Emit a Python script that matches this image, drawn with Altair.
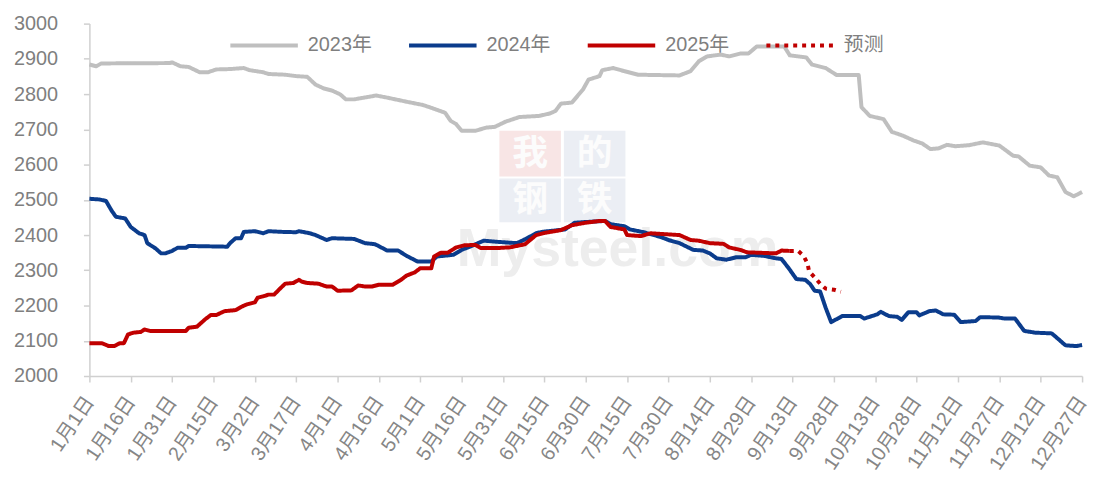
import altair as alt
import pandas as pd

# ---- data (day offset from 1月1日, price) ----
days_2023 = [0, 2.5, 4.3, 29, 30, 33, 36, 40, 43, 46, 51, 56, 58, 63, 65, 71, 75, 79, 82, 85,
             88, 91, 93, 96, 104, 108, 114, 121, 124, 129, 131, 133, 135, 140, 144, 147, 151, 156, 163, 167,
             169, 171, 175, 179, 181, 185, 186, 190, 194, 199, 206, 214, 218, 221, 224, 229, 232, 236, 239, 242,
             252, 254, 260, 262, 267, 271, 279, 280, 283, 288, 291, 295, 299, 302, 305, 308, 311, 314, 319, 324,
             330, 335, 337, 341, 345, 348, 351, 354, 357, 360]
vals_2023 = [2884, 2879, 2887, 2888, 2890, 2879, 2877, 2862, 2862, 2870, 2871, 2874, 2868, 2862, 2857, 2855, 2851, 2849, 2827, 2816,
             2810, 2799, 2785, 2785, 2796, 2790, 2780, 2769, 2761, 2747, 2724, 2715, 2696, 2696, 2705, 2707, 2722, 2735, 2738, 2745,
             2752, 2773, 2776, 2813, 2841, 2851, 2868, 2874, 2865, 2855, 2854, 2853, 2865, 2893, 2907, 2912, 2907, 2915, 2915, 2935,
             2935, 2910, 2904, 2884, 2874, 2854, 2854, 2763, 2738, 2729, 2693, 2682, 2668, 2660, 2644, 2646, 2656, 2652, 2655, 2663,
             2654, 2625, 2623, 2597, 2592, 2569, 2564, 2522, 2510, 2522]

days_2024 = [0, 3.6, 6, 8, 9.6, 13, 15, 18, 20, 21, 24, 26, 27.5, 30, 32, 35, 36, 50, 51, 53,
             55, 56, 60, 63, 65, 70, 75, 76, 80, 82, 86, 88, 96, 100, 103.6, 108, 112, 115, 119, 124,
             126, 132, 135, 138, 143, 147.5, 155, 158, 162, 164, 172.5, 176, 180, 187, 189, 194, 196, 201, 207, 210,
             214, 219, 222.5, 225, 227.5, 231, 234.6, 238, 240, 244.6, 249, 251, 253.6, 256.4, 259.6, 261.4, 263, 265, 267, 269,
             271.4, 273, 279.6, 281, 285.7, 287, 290, 293, 294.6, 297, 300, 301, 304.6, 307, 309.6, 313.6, 316, 321.4, 323, 329.6,
             332, 335.7, 339, 343, 349, 354, 358, 360]
vals_2024 = [2503, 2501, 2497, 2470, 2452, 2447, 2423, 2405, 2400, 2377, 2362, 2348, 2348, 2355, 2364, 2364, 2369, 2367, 2377, 2391,
             2391, 2409, 2411, 2405, 2411, 2409, 2408, 2411, 2405, 2400, 2386, 2391, 2389, 2377, 2374, 2356, 2356, 2341, 2325, 2325,
             2339, 2344, 2358, 2367, 2384, 2381, 2377, 2388, 2405, 2409, 2416, 2435, 2437, 2440, 2431, 2425, 2416, 2408, 2395, 2386,
             2377, 2358, 2356, 2348, 2334, 2330, 2337, 2337, 2344, 2341, 2334, 2332, 2306, 2275, 2273, 2261, 2242, 2240, 2194, 2153,
             2163, 2170, 2170, 2163, 2175, 2182, 2170, 2168, 2159, 2181, 2181, 2172, 2184, 2186, 2175, 2174, 2153, 2156, 2167, 2166,
             2163, 2163, 2128, 2123, 2121, 2087, 2085, 2088]

days_2025 = [0, 4.6, 7, 9, 11, 12.5, 14, 16, 18.6, 20, 22, 35, 36, 39, 42, 44, 46, 49, 53, 55,
             57, 60, 61, 63, 65, 67, 69, 71, 74, 76, 77, 79, 83, 86, 88, 90, 95, 97.5, 100, 102.5,
             105, 110, 113, 115, 118, 120, 124, 125, 127.5, 130, 133, 136, 140, 142, 147.5, 152.5, 158, 162, 165, 171,
             175, 180, 185, 187, 189, 194, 195, 200, 203.5, 214, 218, 221, 225, 230, 232, 236, 238.5, 249, 251, 254]
vals_2025 = [2093, 2093, 2085, 2085, 2093, 2093, 2118, 2123, 2125, 2132, 2128, 2128, 2137, 2140, 2161, 2173, 2173, 2184, 2187, 2196,
             2203, 2209, 2222, 2226, 2231, 2231, 2247, 2262, 2264, 2273, 2268, 2264, 2262, 2254, 2254, 2242, 2243, 2257, 2254, 2254,
             2259, 2259, 2273, 2285, 2294, 2306, 2306, 2339, 2350, 2350, 2365, 2371, 2372, 2363, 2363, 2365, 2374, 2400, 2406, 2414,
             2428, 2435, 2440, 2440, 2423, 2416, 2400, 2397, 2405, 2400, 2386, 2384, 2377, 2375, 2365, 2358, 2351, 2348, 2356, 2355]

days_fc = [254, 257, 259, 260.4, 261, 263, 265, 267, 270, 272.5]
vals_fc = [2355, 2355, 2341, 2320, 2297, 2280, 2262, 2248, 2245, 2239]

series_names = ["2023年", "2024年", "2025年", "预测"]
series_colors = ["#BFBFBF", "#0B3C8C", "#C00000", "#C00000"]
series_dash = [[1, 0], [1, 0], [1, 0], [4, 5]]

tick_days = list(range(0, 361, 15))
tick_labels = ["1月1日", "1月16日", "1月31日", "2月15日", "3月2日", "3月17日", "4月1日", "4月16日",
               "5月1日", "5月16日", "5月31日", "6月15日", "6月30日", "7月15日", "7月30日", "8月14日",
               "8月29日", "9月13日", "9月28日", "10月13日", "10月28日", "11月12日", "11月27日",
               "12月12日", "12月27日"]
y_ticks = list(range(2000, 3001, 100))

frames = []
for name, d, v in zip(series_names, [days_2023, days_2024, days_2025, days_fc],
                      [vals_2023, vals_2024, vals_2025, vals_fc]):
    frames.append(pd.DataFrame({"day": d, "value": v, "series": name}))
df = pd.concat(frames, ignore_index=True)

FONT = "Liberation Sans, Noto Sans CJK SC, sans-serif"
GREY_TXT = "#7F7F7F"
AXIS_C = "#D0D0D0"

label_expr = "[" + ",".join("'%s'" % s for s in tick_labels) + "][round(datum.value/15)]"

x_enc = alt.X("day:Q",
              scale=alt.Scale(domain=[0, 360], nice=False, zero=False),
              axis=alt.Axis(values=tick_days, labelExpr=label_expr, labelAngle=-56,
                            labelAlign="right", labelBaseline="middle", labelFontSize=20,
                            labelFont=FONT, labelColor="#868686", labelPadding=16,
                            labelOverlap=False, labelBound=False, labelFlush=False,
                            tickSize=6, tickColor=AXIS_C, tickWidth=1.5,
                            domainColor=AXIS_C, domainWidth=1.5, grid=False, title=None))
y_enc = alt.Y("value:Q",
              scale=alt.Scale(domain=[2000, 3000], nice=False, zero=False),
              axis=alt.Axis(values=y_ticks, format="d", labelFontSize=20, labelFont=FONT,
                            labelColor=GREY_TXT, labelPadding=26, tickSize=6, tickColor=AXIS_C,
                            tickWidth=1.5, domainColor=AXIS_C, domainWidth=1.5, grid=False,
                            title=None))

legend = alt.Legend(title=None, orient="none", legendX=140, legendY=-14, direction="horizontal",
                    columns=4, symbolType="stroke", symbolSize=4624, symbolStrokeWidth=4,
                    labelFontSize=20, labelFont=FONT, labelColor=GREY_TXT, labelOffset=8,
                    columnPadding=29, padding=0, labelLimit=300)

color_enc = alt.Color("series:N", scale=alt.Scale(domain=series_names, range=series_colors),
                      legend=legend)
dash_enc = alt.StrokeDash("series:N", scale=alt.Scale(domain=series_names, range=series_dash),
                          legend=legend)

base = alt.Chart(df).encode(x=x_enc, y=y_enc, color=color_enc, strokeDash=dash_enc)

lines = [
    base.transform_filter(alt.datum.series == s).mark_line(strokeWidth=4, strokeJoin="round")
    for s in series_names
]

# ---- watermark (decoration) ----
one = pd.DataFrame({"k": [0]})
wm_layers = []
boxes = [("我", 413, 475, 108, 154, "#F7E0E0"), ("的", 478, 540, 108, 154, "#E7EBF2"),
         ("钢", 413, 475, 156, 200, "#E7EBF2"), ("铁", 478, 540, 156, 200, "#E7EBF2")]
for ch, x1, x2, y1, y2, col in boxes:
    wm_layers.append(alt.Chart(one).mark_rect(color=col, opacity=0.85).encode(
        x=alt.value(x1), x2=alt.value(x2), y=alt.value(y1), y2=alt.value(y2)))
    wm_layers.append(alt.Chart(one).mark_text(text=ch, fontSize=36, fontWeight="bold",
                                              font="Noto Sans CJK SC", color="#FCFCFC",
                                              align="center", baseline="middle").encode(
        x=alt.value((x1 + x2) / 2), y=alt.value((y1 + y2) / 2)))
wm_layers.append(alt.Chart(one).mark_text(text="Mysteel.com", fontSize=54, fontWeight="bold",
                                          font="Liberation Sans", color="#EDEDED",
                                          align="left", baseline="alphabetic").encode(
    x=alt.value(370), y=alt.value(244)))

chart = alt.layer(*wm_layers, *lines).properties(
    width=1000, height=355,
    autosize=alt.AutoSizeParams(type="none"),
    padding={"left": 82, "top": 14, "right": 10, "bottom": 100},
).configure_view(stroke=None)

chart.save("out.html", embed_options={"renderer": "svg", "actions": False})
